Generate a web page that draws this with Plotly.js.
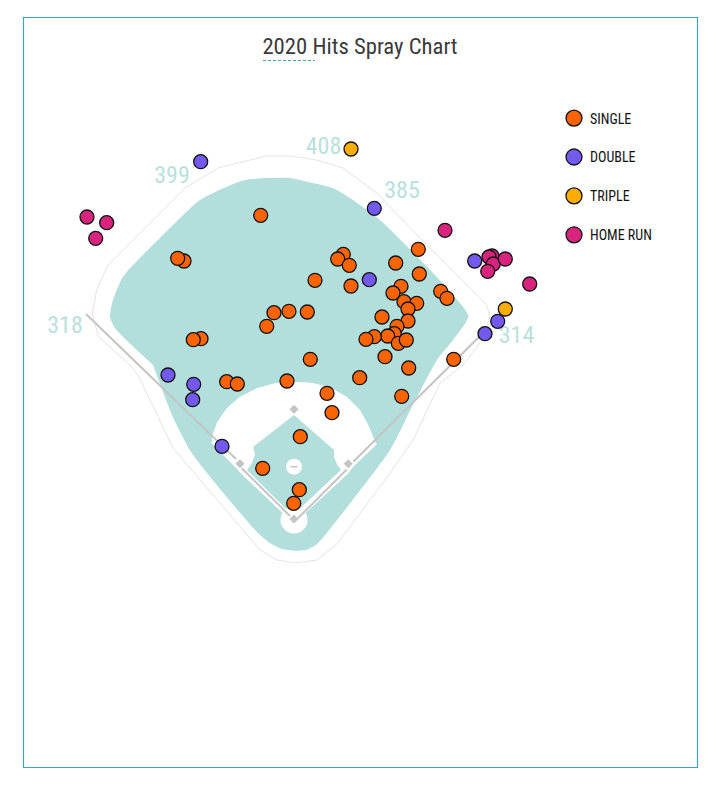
<!DOCTYPE html>
<html><head><meta charset="utf-8">
<script src="https://cdn.plot.ly/plotly-3.0.1.min.js"></script>
<style>html,body{margin:0;padding:0;background:#fff}#chart{width:720px;height:805px}</style>
</head><body><div id="chart"></div>
<script>
// Hit locations (chart units run left-right, top-down)
const singleX=[260.7,184,177.7,274,289,266.7,201,193.3,418.3,343.3,337.7,349.3,395.7,315,419.3,351,401,393,440.7,447,404,416.7,408,307.3,382,408,397,394.3,387.7,374.3,366,398.3,406.3,385,310.3,453.7,408.7,226.7,237.3,287,327,332,359.7,401.7,300.3,262.7,299.3,293.7];
const singleY=[215.3,261,258.3,312.7,311.3,326.3,338.7,339.7,249.3,254.3,259,265.3,263,280.3,274,286,286.3,293,291.3,298.3,301.7,303.3,309,312,317,321,326.3,333.7,336,336.7,339.3,343.3,340,356.7,359.3,359.3,368,381.7,384,381,393.3,412.7,377.7,396.3,436.7,468.3,489.7,503.3];
const doubleX=[200.7,374.3,369.3,474.7,497.7,485,168,193.7,192.7,222];
const doubleY=[161.7,208.3,279.7,261,321.3,333.7,375,384.3,399.7,446.3];
const tripleX=[351,505.3];
const tripleY=[149,309];
const homerX=[87,106.7,95.7,445,492,489,493.3,505.3,487.7,529.7];
const homerY=[217,222.7,238.3,230.3,256,257,264,259,271.3,284];
const hitNames=["SINGLE","DOUBLE","TRIPLE","HOME RUN"];
const hitColors=["#fb6400","#7359ee","#ffad00","#d8237f"];
// Park outline
const grassX=[153,172,191.7,256.7,270,282,295,306,316,326.7,390,413,437,453,466,468.5,463,433,380,350,333,307,290,266.7,245,226.7,200,160,123,113,110,115,136.7];
const grassY=[365,415,453,531.7,543,549,550.7,550,545,533,450,405,360,340,322,316,306.7,273,220,198,188,181.7,178,178,180,186.7,200,238,276.7,300,316.7,328.3,350];
const wallX=[130,138,173,243,260,277,295,317,338,390,413,440,463,482,490,486.7,420,376.7,343,316.7,290,266.7,218,185,108,96.7,92.3,98.3,113,130];
const wallY=[365,375,448,530,550,560,563,560,543,473,440,383,365,340,316.7,305,238,193,168,160,156,156,168,188,265,290,313,336.7,350,365];
const dirtX=[212.3,217.3,226.7,240,256.7,276.7,293.3,311.7,330,346.7,360,368.3,376,377,353,348,298,290,241,236,211.7];
const dirtY=[435,421.7,408.3,396.7,388.3,382.7,381.7,382.7,387.3,396.7,410,425,443.3,444,467,473.5,520,520,473.5,468,443.3];
const diamondX=[294,334,334,337.3,341,300,294,287,247,251.7,255,253.3];
const diamondY=[415,450,456.7,465,470,509,514,510,470,463.3,455,446.7];
const homeCircleX=[294],homeCircleY=[520];
const moundX=[294],moundY=[466.7];
const rubberX=[290.5,297.5],rubberY=[466.7,466.7];
const baseX=[294,240,348.3,294],baseY=[409.3,463.7,463.7,519];
const foulX=[86,236,null,241.7,290,null,298,346.7,null,353.5,485];
const foulY=[314,459,null,468.3,516,null,518.3,469.5,null,461.5,331];
const labelText=["399","408","385","318","314"];
const labelX=[172,323.5,402,65,516.5];
const labelY=[177,148,192,327,337];

const FONT="Roboto Condensed, Liberation Sans Narrow, Roboto, sans-serif";
const G="#b2dfdb";
const bg={hoverinfo:"skip",showlegend:false,mode:"lines",type:"scatter"};
const traces=[
 {...bg,x:wallX,y:wallY,line:{color:"#e4e4e4",width:1}},
 {...bg,x:grassX,y:grassY,fill:"toself",fillcolor:G,line:{color:G,width:0,shape:"spline",smoothing:0.6}},
 {...bg,x:dirtX,y:dirtY,fill:"toself",fillcolor:"#fff",line:{color:"#fff",width:0}},
 {...bg,x:diamondX,y:diamondY,fill:"toself",fillcolor:G,line:{color:G,width:0}},
 {...bg,mode:"markers",x:homeCircleX,y:homeCircleY,marker:{size:27,color:"#fff"}},
 {...bg,mode:"markers",x:moundX,y:moundY,marker:{size:16,color:"#fff"}},
 {...bg,x:rubberX,y:rubberY,line:{color:"#c4c4c4",width:1.5}},
 {...bg,x:foulX,y:foulY,line:{color:"#c4c4c4",width:2}},
 {...bg,mode:"markers",x:baseX,y:baseY,marker:{symbol:"diamond",size:7,color:"#c4c4c4"}},
 {...bg,mode:"text",x:labelX,y:labelY,text:labelText,textposition:"middle center",textfont:{family:FONT,size:24,color:"#b9e1dd"}}
];
const hitsX=[singleX,doubleX,tripleX,homerX],hitsY=[singleY,doubleY,tripleY,homerY];
hitNames.forEach((n,i)=>traces.push({type:"scatter",mode:"markers",name:n,legendgroup:n,showlegend:false,x:hitsX[i],y:hitsY[i],
  marker:{size:14,color:hitColors[i],line:{color:"#111",width:1.3}},hoverinfo:"skip"}));
// legend keys: same series, larger symbol than the plotted marks
hitNames.forEach((n,i)=>traces.push({type:"scatter",mode:"markers",name:n,legendgroup:n,x:[null],y:[null],
  marker:{size:16,color:hitColors[i],line:{color:"#111",width:1.3}},hoverinfo:"skip"}));

const layout={width:720,height:805,margin:{l:0,r:0,t:0,b:0},paper_bgcolor:"#fff",plot_bgcolor:"#fff",showlegend:true,
 title:{text:"2020 Hits Spray Chart",x:0.5,xanchor:"center",y:1-46/805,yanchor:"middle",font:{family:FONT,size:22.7,color:"#3a3a3a"}},
 xaxis:{range:[0,720],visible:false,fixedrange:true},
 yaxis:{range:[805,0],visible:false,fixedrange:true},
 legend:{x:554/720,xanchor:"left",y:1-(102.5/805),yanchor:"top",font:{family:FONT,size:14,color:"#111"},tracegroupgap:17.7,itemsizing:"trace",bgcolor:"rgba(0,0,0,0)",borderwidth:0},
 shapes:[
  {type:"rect",x0:23.5,x1:697.5,y0:17.5,y1:767.5,line:{color:"#3fa6b8",width:1.2},fillcolor:"rgba(0,0,0,0)"},
  {type:"line",x0:263,x1:315,y0:60.5,y1:60.5,line:{color:"#4a9fa0",width:1,dash:"3px,2px"}}
 ]};
Plotly.newPlot("chart",traces,layout,{displayModeBar:false,staticPlot:true}).then(gd=>{
  gd.querySelectorAll(".legendtext").forEach(t=>t.setAttribute("x","36"));
});
</script></body></html>
